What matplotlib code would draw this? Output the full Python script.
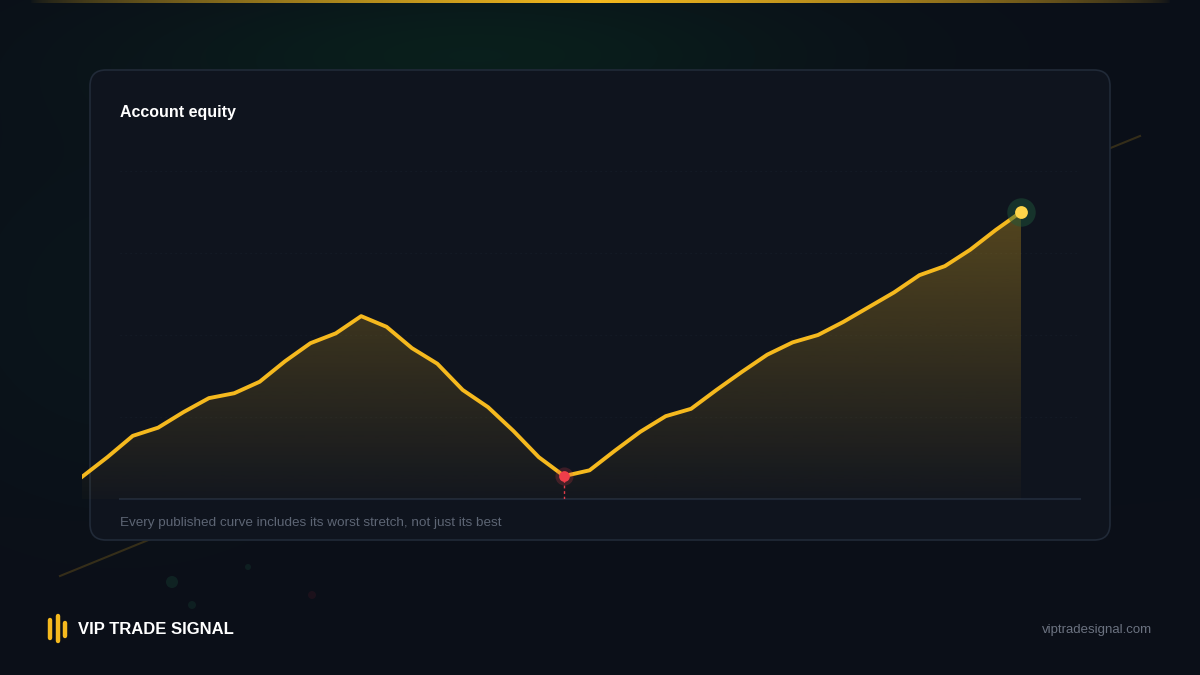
import matplotlib
matplotlib.use('Agg')
import matplotlib.pyplot as plt
import numpy as np
from matplotlib.patches import FancyBboxPatch, Polygon, Circle

# equity curve, one point per period (grid step = 10)
equity = [2.7, 5.1, 7.7, 8.7, 10.6, 12.3, 12.9, 14.3, 16.8, 19.0,
          20.2, 22.3, 21.0, 18.4, 16.5, 13.3, 11.2, 8.3, 5.1, 2.8,
          3.5, 5.9, 8.2, 10.1, 11.0, 13.3, 15.5, 17.6, 19.1, 20.0,
          21.6, 23.4, 25.2, 27.3, 28.4, 30.4, 32.8, 35.0]
grid_values = [10, 20, 30, 40]

title = "Account equity"
caption = "Every published curve includes its worst stretch, not just its best"
brand = "VIP TRADE SIGNAL"
site = "viptradesignal.com"

GOLD = '#f5b91e'
W, H = 1200, 675
FONT = 'Liberation Sans'

fig = plt.figure(figsize=(12, 6.75), dpi=100)

# background layer in pixel coordinates
bg = fig.add_axes([0, 0, 1, 1])
bg.set_xlim(0, W)
bg.set_ylim(H, 0)
bg.axis('off')

yy, xx = np.mgrid[0:H, 0:W]
img = np.zeros((H, W, 3))
img[:] = np.array([11, 15, 24]) / 255
glow = np.exp(-(((xx - 480) / 330) ** 2 + ((yy - 55) / 80) ** 2))
img += glow[..., None] * np.array([-2, 16, 4]) / 255
glow2 = np.exp(-(((xx - 120) / 220) ** 2 + ((yy - 300) / 200) ** 2))
img += glow2[..., None] * np.array([0, 6, 3]) / 255
bg.imshow(np.clip(img, 0, 1), extent=[0, W, H, 0], aspect='auto', zorder=0)

# top gold strip
strip = np.zeros((1, W, 4))
strip[..., :3] = np.array([245, 185, 30]) / 255
strip[0, :, 3] = np.clip(1 - np.abs(np.arange(W) - 600) / 570, 0, 1) ** 0.6
bg.imshow(strip, extent=[0, W, 3.5, 0], aspect='auto', zorder=1)

# faint diagonal behind the card
bg.plot([60, 1140], [576, 136], color=GOLD, alpha=0.18, lw=1.5, zorder=1)
for (cx, cy, r, c, a) in [(172, 582, 6, '#1f6a4a', 0.22), (248, 567, 3, '#1f6a4a', 0.18),
                          (192, 605, 4, '#1f6a4a', 0.18), (312, 595, 4, '#6a1f2a', 0.18)]:
    bg.add_patch(Circle((cx, cy), r, color=c, alpha=a, lw=0, zorder=1))

card = FancyBboxPatch((90, 70), 1020, 470, boxstyle='round,pad=0,rounding_size=16',
                      facecolor='#0f141e', edgecolor='#212a38', lw=1.2, zorder=2)
bg.add_patch(card)

# baseline
bg.plot([120, 1080], [499, 499], color='#1e2736', lw=1.5, zorder=3)

bg.text(120, 112, title, color='white', fontsize=11.5, fontweight='bold',
        family=FONT, va='center', ha='left', zorder=5)
bg.text(120, 523, caption, color='#5d6574', fontsize=9.7, family=FONT,
        va='center', ha='left', zorder=5)

# brand mark
for bx, top, bot in [(50, 620, 638), (57.5, 616, 641), (65, 623, 636)]:
    bg.plot([bx, bx], [top, bot], color=GOLD, lw=3.2, solid_capstyle='round', zorder=5)
bg.text(78, 630, brand, color='white', fontsize=12, fontweight='bold',
        family=FONT, va='center', ha='left', zorder=5)
bg.text(1152, 630, site, color='#6b7280', fontsize=9.5, family=FONT,
        va='center', ha='right', zorder=5)

# chart axes
px_step = 939 / (len(equity) - 1)
left_px, right_px, top_px, base_px = 82, 1080, 140, 499
ax = fig.add_axes([left_px / W, (H - base_px) / H, (right_px - left_px) / W,
                   (base_px - top_px) / H])
ax.patch.set_alpha(0)
ax.axis('off')
xmax = (right_px - left_px) / px_step
ymax = (base_px - top_px) / 8.2

x = np.arange(len(equity))
y = np.array(equity)

ax.hlines(grid_values, (120 - left_px) / px_step, xmax, colors='#151c28',
          linestyles=(0, (1, 3)), lw=0.9, zorder=1)

verts = np.column_stack([np.r_[x[0], x, x[-1]], np.r_[0, y, 0]])
poly = Polygon(verts, closed=True, facecolor='none', edgecolor='none')
ax.add_patch(poly)
grad = np.zeros((256, 1, 4))
grad[..., :3] = np.array([245, 185, 30]) / 255
grad[:, 0, 3] = np.linspace(0.02, 0.30, 256)
im = ax.imshow(grad, extent=[x[0], x[-1], 0, y.max()], origin='lower',
               aspect='auto', zorder=2)
im.set_clip_path(poly)

ax.plot(x, y, color=GOLD, lw=2.8, solid_joinstyle='round', zorder=4)

# worst point
imin = int(np.argmin(y[5:])) + 5
ax.vlines(x[imin], 0, y[imin], colors='#e23b4a', linestyles=(0, (2, 2)), lw=1, zorder=3)
ax.scatter([x[imin]], [y[imin]], s=170, color='#e23b4a', alpha=0.22, lw=0, zorder=5)
ax.scatter([x[imin]], [y[imin]], s=60, color='#ef3e4a', lw=0, zorder=6)

# latest point
ax.scatter([x[-1]], [y[-1]], s=420, color='#1f5a3c', alpha=0.45, lw=0, zorder=5)
ax.scatter([x[-1]], [y[-1]], s=85, color='#ffd54a', lw=0, zorder=6)

ax.set_xlim(0, xmax)
ax.set_ylim(0, ymax)

fig.savefig('out.png', dpi=100)
